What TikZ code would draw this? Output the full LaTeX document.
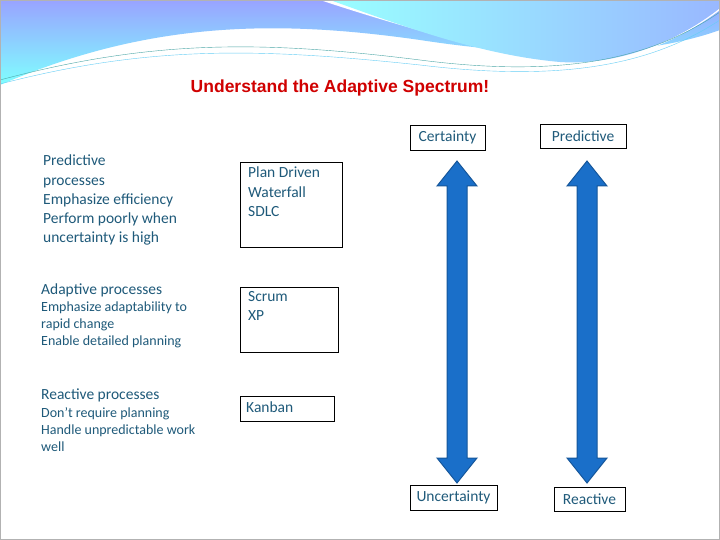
\documentclass[tikz,border=0pt]{standalone}
\usepackage{fontspec}
\setmainfont{Carlito}
\newfontfamily\titlefont{Liberation Sans}
\definecolor{txt}{HTML}{1F5A7A}
\definecolor{ttl}{HTML}{D00000}
\definecolor{arr}{HTML}{1A6FC9}
\definecolor{arre}{HTML}{15569A}
\begin{document}
\begin{tikzpicture}[x=1pt,y=-1pt,
 lbl/.style={draw=black,thin,fill=white,text=txt,font=\fontsize{15.5}{17}\selectfont,inner sep=0pt},
 txtl/.style={anchor=north west,text=txt,align=left,inner sep=0pt},
 dbl/.style={fill=arr,draw=arre,line width=1pt}]
\useasboundingbox (0,0) rectangle (720,540);
\fill[white] (0,0) rectangle (720,540);
% top waves
\shade[top color=cyan!10!blue!40!white,bottom color=cyan!50!white]
 (0,0) -- (720,0) -- (720,30) .. controls (650,55) and (550,60) .. (420,40) .. controls (280,20) and (150,20) .. (0,85) -- cycle;
\fill[white] (320,0) .. controls (380,20) and (480,50) .. (560,62) .. controls (620,68) and (680,40) .. (720,10) -- (720,0) -- cycle;
\shade[left color=cyan!40!white,right color=cyan!30!blue!40!white]
 (330,0) .. controls (400,25) and (480,55) .. (560,62) .. controls (620,66) and (680,40) .. (720,8) -- (720,0) -- cycle;
\draw[teal!70,thin] (0,80) .. controls (150,40) and (260,40) .. (420,60) .. controls (560,78) and (650,60) .. (720,12);
\draw[cyan!60,thin] (0,84) .. controls (150,45) and (260,48) .. (420,65) .. controls (560,82) and (650,66) .. (720,20);
\draw[gray!60] (0.5,0.5) rectangle (719.5,539.5);
% title
\node[text=ttl,font=\titlefont\bfseries\fontsize{17.5}{20}\selectfont] (title) at (340,88) {Understand the Adaptive Spectrum!};
% left texts
\node[txtl,font=\fontsize{15.5}{19.2}\selectfont] (t1) at (43,155) {Predictive\\processes\\Emphasize efficiency\\Perform poorly when\\uncertainty is high};
\node[txtl,font=\fontsize{15.5}{17}\selectfont] (t2) at (41,284) {Adaptive processes};
\node[txtl,font=\fontsize{14}{17}\selectfont] (t2b) at (41,302) {Emphasize adaptability to\\rapid change\\Enable detailed planning};
\node[txtl,font=\fontsize{15.5}{17}\selectfont] (t3) at (41,389) {Reactive processes};
\node[txtl,font=\fontsize{14}{17}\selectfont] (t3b) at (41,407) {Don’t require planning\\Handle unpredictable work\\well};
% middle boxes
\draw (240,162) rectangle (342,247);
\node[txtl,font=\fontsize{15.5}{19.2}\selectfont] (b1) at (248,167) {Plan Driven\\Waterfall\\SDLC};
\draw (240,287) rectangle (338,352);
\node[txtl,font=\fontsize{15.5}{19.2}\selectfont] (b2) at (248,291) {Scrum\\XP};
\draw (240,396) rectangle (334,421);
\node[txtl,font=\fontsize{15.5}{17}\selectfont] (b3) at (246,402) {Kanban};
% labels
\node[lbl,minimum width=75pt,minimum height=25pt] (cert) at (447.5,137.5) {Certainty};
\node[lbl,minimum width=86pt,minimum height=24pt] (pred) at (583,136) {Predictive};
\node[lbl,minimum width=87pt,minimum height=25pt] (unc) at (453.5,497.5) {Uncertainty};
\node[lbl,minimum width=71pt,minimum height=24pt] (reac) at (589.5,499) {Reactive};
% arrows
\foreach \cx/\nm in {457/a1,587/a2}{
 \draw[dbl] (\cx,161) -- (\cx+20,186) -- (\cx+10,186) -- (\cx+10,458) -- (\cx+20,458) -- (\cx,483) -- (\cx-20,458) -- (\cx-10,458) -- (\cx-10,186) -- (\cx-20,186) -- cycle;
}
\end{tikzpicture}
\end{document}
